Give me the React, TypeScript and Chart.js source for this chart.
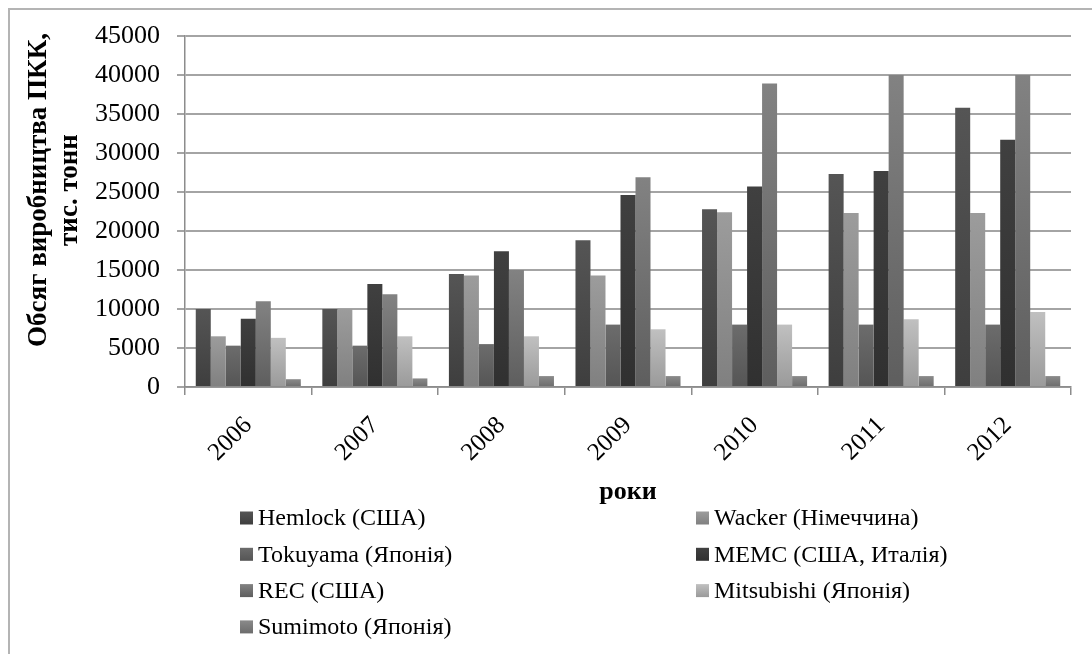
import React, { useEffect, useRef } from "react";
import { Chart, registerables } from "chart.js";

Chart.register(...registerables);

const years = ["2006", "2007", "2008", "2009", "2010", "2011", "2012"];
const hemlock = [10000, 10000, 14500, 18800, 22800, 27300, 35800];
const wacker = [6500, 10000, 14300, 14300, 22400, 22300, 22300];
const tokuyama = [5300, 5300, 5500, 8000, 8000, 8000, 8000];
const memc = [8750, 13200, 17400, 24600, 25700, 27700, 31700];
const rec = [11000, 11900, 15000, 26900, 38900, 40000, 40000];
const mitsubishi = [6300, 6500, 6500, 7400, 8000, 8700, 9600];
const sumimoto = [1000, 1100, 1400, 1400, 1400, 1400, 1400];

const seriesNames = [
  "Hemlock (США)",
  "Wacker (Німеччина)",
  "Tokuyama (Японія)",
  "MEMC (США, Италія)",
  "REC (США)",
  "Mitsubishi (Японія)",
  "Sumimoto (Японія)",
];
const seriesValues = [hemlock, wacker, tokuyama, memc, rec, mitsubishi, sumimoto];
// [top colour, bottom colour]
const seriesColors: [string, string][] = [
  ["#555555", "#3e3e3e"],
  ["#9c9c9c", "#808080"],
  ["#6c6c6c", "#555555"],
  ["#404040", "#303030"],
  ["#828282", "#5e5e5e"],
  ["#c0c0c0", "#9a9a9a"],
  ["#8a8a8a", "#6c6c6c"],
];
const yTicks = [0, 5000, 10000, 15000, 20000, 25000, 30000, 35000, 40000, 45000];
const yTitleLines = ["Обсяг виробництва ПКК,", "тис. тонн"];
const xTitle = "роки";

const SERIF = "'Liberation Serif', 'Times New Roman', serif";

const decorPlugin = {
  id: "decor",
  beforeDraw(chart: any) {
    const c = chart.ctx;
    c.save();
    c.fillStyle = "#ffffff";
    c.fillRect(0, 0, chart.width, chart.height);
    c.strokeStyle = "#b4b4b4";
    c.lineWidth = 2;
    c.beginPath();
    c.moveTo(9, chart.height);
    c.lineTo(9, 9);
    c.lineTo(chart.width, 9);
    c.stroke();
    c.restore();
  },
  afterDraw(chart: any) {
    const c = chart.ctx;
    c.save();
    // y title
    c.fillStyle = "#000";
    c.font = `bold 27px ${SERIF}`;
    c.textAlign = "center";
    c.textBaseline = "middle";
    c.translate(0, 190);
    c.rotate(-Math.PI / 2);
    c.fillText(yTitleLines[0], 0, 39);
    c.fillText(yTitleLines[1], 0, 70);
    c.restore();

    c.save();
    c.fillStyle = "#000";
    c.font = `bold 26px ${SERIF}`;
    c.textAlign = "center";
    c.textBaseline = "middle";
    const area = chart.chartArea;
    c.fillText(xTitle, (area.left + area.right) / 2, 492);
    c.restore();

    // legend
    c.save();
    c.font = `24px ${SERIF}`;
    c.textBaseline = "middle";
    c.textAlign = "left";
    seriesNames.forEach((name, i) => {
      const col = i % 2;
      const row = Math.floor(i / 2);
      const mx = col === 0 ? 240 : 696;
      const y = 518 + row * 36.3;
      const [top, bot] = seriesColors[i];
      const g = c.createLinearGradient(0, y - 6.5, 0, y + 6.5);
      g.addColorStop(0, top);
      g.addColorStop(1, bot);
      c.fillStyle = g;
      c.fillRect(mx, y - 6.5, 13, 13);
      c.fillStyle = "#000";
      c.fillText(name, mx + 18, y + 1);
    });
    c.restore();
  },
};

export default function App() {
  const ref = useRef<HTMLCanvasElement | null>(null);

  useEffect(() => {
    if (!ref.current) return;
    const datasets = seriesNames.map((name, i) => ({
      label: name,
      data: seriesValues[i],
      borderWidth: 0,
      backgroundColor: (ctx: any) => {
        const chart = ctx.chart;
        const [top, bot] = seriesColors[i];
        const ys = chart.scales && chart.scales.y;
        if (!ys || !ctx.parsed || ctx.parsed.y == null) return top;
        const yTop = ys.getPixelForValue(ctx.parsed.y);
        const yBot = ys.getPixelForValue(0);
        if (!isFinite(yTop) || !isFinite(yBot) || yBot - yTop < 1) return top;
        const g = chart.ctx.createLinearGradient(0, yTop, 0, yBot);
        g.addColorStop(0, top);
        g.addColorStop(1, bot);
        return g;
      },
    }));

    const chart = new Chart(ref.current, {
      type: "bar",
      data: { labels: years, datasets },
      options: {
        responsive: false,
        animation: false,
        layout: { padding: { left: 0, top: 36, right: 21, bottom: 0 } },
        plugins: {
          legend: { display: false },
          tooltip: { enabled: false },
        },
        datasets: {
          bar: { categoryPercentage: 0.83, barPercentage: 1 },
        },
        scales: {
          x: {
            offset: true,
            grid: {
              offset: true,
              drawOnChartArea: false,
              drawTicks: true,
              tickLength: 8,
              color: "#8c8c8c",
              lineWidth: 1.5,
            },
            border: { display: true, color: "#8c8c8c", width: 1.5 },
            ticks: {
              color: "#000",
              font: { family: SERIF, size: 25 },
              maxRotation: 45,
              minRotation: 45,
              padding: 16,
            },
            afterFit: (s: any) => {
              s.height = 654 - 387;
            },
          },
          y: {
            min: 0,
            max: 45000,
            afterBuildTicks: (s: any) => {
              s.ticks = yTicks.map((v) => ({ value: v }));
            },
            grid: {
              color: "#a4a4a4",
              lineWidth: 2,
              drawTicks: true,
              tickLength: 8,
            },
            border: { display: true, color: "#8c8c8c", width: 1.5 },
            ticks: {
              color: "#000",
              font: { family: SERIF, size: 26 },
              padding: 17,
              callback: (v: any) => String(v),
            },
            afterFit: (s: any) => {
              s.width = 185;
            },
          },
        },
      },
      plugins: [decorPlugin],
    });
    return () => chart.destroy();
  }, []);

  return (
    <div
      style={{
        position: "fixed",
        left: 0,
        top: 0,
        width: 1092,
        height: 654,
        background: "#fff",
      }}
    >
      <canvas ref={ref} width={1092} height={654} style={{ display: "block" }} />
    </div>
  );
}
